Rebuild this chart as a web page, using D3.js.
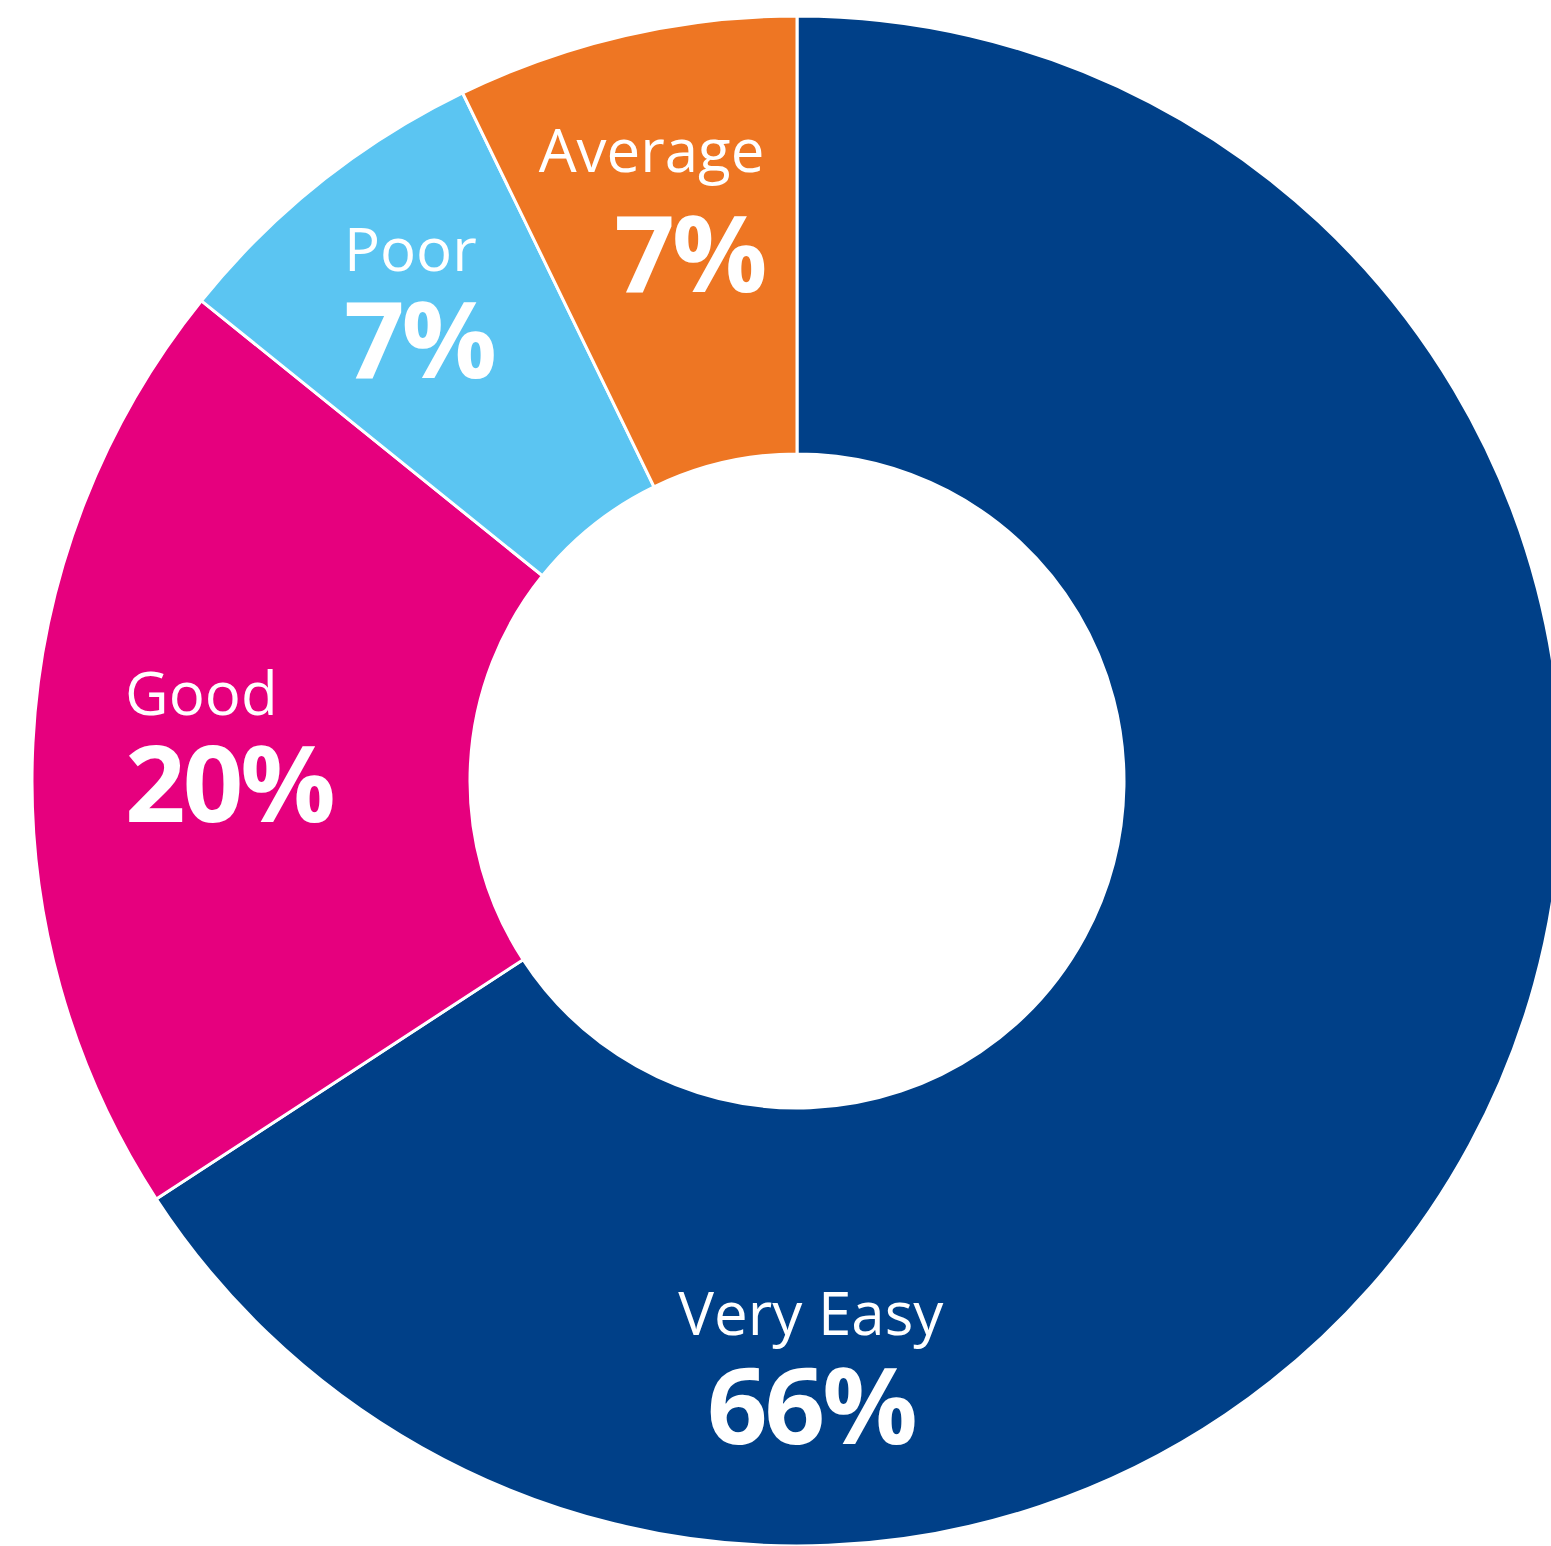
<!DOCTYPE html>
<html>
<head>
<meta charset="utf-8">
<script src="https://cdn.jsdelivr.net/npm/d3@7"></script>
<style>
  html, body { margin: 0; padding: 0; background: #ffffff; }
  svg { display: block; }
</style>
</head>
<body>
<script>
// ---- data ----
const categories = ["Very Easy", "Good", "Poor", "Average"];
const values = [65.8, 20.0, 7.0, 7.2];
const percentLabels = ["66%", "20%", "7%", "7%"];
const colors = ["#004088", "#E6007E", "#5BC5F2", "#EE7623"];

// ---- label layout (polar anchor: angle from 12 o'clock, clockwise) ----
const labelAngleDeg = [178.7, 271.1, 315.2, 356.6];
const labelRadius = [609, 672, 643, 550];
const labelAnchor = ["middle", "start", "start", "end"];
const labelGap = [109, 107, 107, 120];

const W = 1551, H = 1546;
const cx = 797, cy = 781;
const outerR = 765, innerR = 327;

const svg = d3.select("body").append("svg")
  .attr("width", W).attr("height", H);

const g = svg.append("g").attr("transform", `translate(${cx},${cy})`);

const pie = d3.pie().sort(null).value(d => d.value);
const arc = d3.arc().innerRadius(innerR).outerRadius(outerR);

const data = categories.map((c, i) => ({
  name: c, value: values[i], pct: percentLabels[i], color: colors[i],
  la: labelAngleDeg[i], lr: labelRadius[i], anchor: labelAnchor[i], gap: labelGap[i]
}));

g.selectAll("path.slice")
  .data(pie(data))
  .join("path")
  .attr("class", "slice")
  .attr("d", arc)
  .attr("fill", d => d.data.color)
  .attr("stroke", "#ffffff")
  .attr("stroke-width", 3)
  .attr("stroke-linejoin", "miter");

const labels = g.selectAll("g.label")
  .data(pie(data))
  .join("g")
  .attr("class", "label")
  .attr("transform", d => {
    const a = d.data.la * Math.PI / 180;
    const x = d.data.lr * Math.sin(a);
    const y = -d.data.lr * Math.cos(a);
    return `translate(${x},${y})`;
  });

labels.append("text")
  .attr("text-anchor", d => d.data.anchor)
  .attr("y", d => -d.data.gap / 2)
  .attr("fill", "#ffffff")
  .style("font-family", "'Open Sans', sans-serif")
  .style("font-size", "60px")
  .style("font-weight", 400)
  .text(d => d.data.name);

labels.append("text")
  .attr("text-anchor", d => d.data.anchor)
  .attr("y", d => d.data.gap / 2)
  .attr("fill", "#ffffff")
  .style("font-family", "'Open Sans', sans-serif")
  .style("font-size", "106px")
  .style("font-weight", 700)
  .style("letter-spacing", "-3px")
  .text(d => d.data.pct);
</script>
</body>
</html>
